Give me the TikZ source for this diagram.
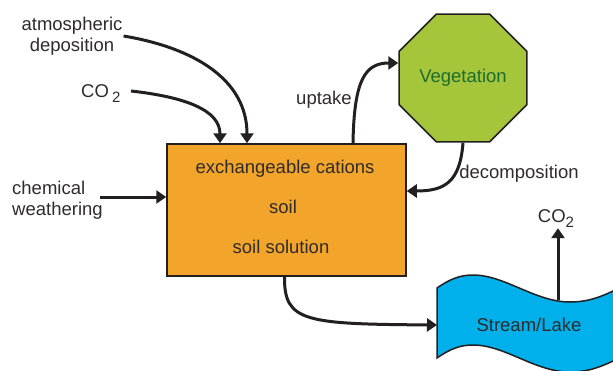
\documentclass[tikz,border=0pt]{standalone}
\usepackage{fontspec}
\setmainfont{Liberation Sans}
\usetikzlibrary{arrows.meta,shapes.geometric}
\definecolor{ink}{HTML}{231F20}
\definecolor{txt}{HTML}{2E2B2C}
\definecolor{soilor}{HTML}{F3A52B}
\definecolor{veggreen}{HTML}{A5C63B}
\definecolor{vegtext}{HTML}{1E6B2E}
\definecolor{water}{HTML}{00B0EA}
\tikzset{
  lbl/.style={font=\fontsize{18.5}{20.5}\selectfont, text=txt, inner sep=1pt},
  flow/.style={draw=ink, line width=3pt, -{Triangle[length=10pt,width=13pt]}},
  shapeline/.style={draw=ink, line width=1.5pt},
}
\newcommand{\subtwo}{\raisebox{-5pt}{\fontsize{15}{15}\selectfont 2}}
\begin{document}
\begin{tikzpicture}[x=1pt,y=-1pt]
\useasboundingbox (0,0) rectangle (613,370);

% soil box
\node[shapeline, fill=soilor, minimum width=239pt, minimum height=132pt, inner sep=0] (box) at (286.5,210) {};
\node[lbl] (t1) at (285,169) {exchangeable cations};
\node[lbl] (t2) at (283,207) {soil};
\node[lbl] (t3) at (281,247) {soil solution};

% vegetation
\node[shapeline, fill=veggreen, regular polygon, regular polygon sides=8, minimum size=138.5pt, inner sep=0,
      font=\fontsize{18.5}{20.5}\selectfont, text=vegtext] (veg) at (463,78) {Vegetation};

% stream / lake
\path[shapeline, fill=water]
  (437,288) .. controls (450,279) and (460,275) .. (473,275)
  .. controls (505,275) and (535,302) .. (570,302)
  .. controls (595,302) and (610,292) .. (630,283)
  -- (630,353)
  .. controls (610,362) and (595,372) .. (570,372)
  .. controls (535,372) and (505,345) .. (473,345)
  .. controls (460,345) and (450,349) .. (437,358) -- cycle;
\node[lbl] (stream) at (529,325) {Stream/Lake};
\coordinate (streamin) at (437,325);
\coordinate (streamtop) at (558,300);

% labels
\node[lbl, align=center] (atm) at (72,36) {atmospheric\\deposition};
\node[lbl, anchor=base west] (co2l) at (80,97) {CO\,\subtwo};
\node[lbl, align=left, anchor=west] (chem) at (11,200) {chemical\\weathering};
\node[lbl] (uptake) at (324,100) {uptake};
\node[lbl] (decomp) at (519,174) {decomposition};
\node[lbl, anchor=base] (co2r) at (556,222) {CO\subtwo};

\coordinate (co2lstart) at (131,91);
\coordinate (chemstart) at (100,197);

% connectors
\draw[flow] (atm.east) .. controls (195,48) and (247,80) .. ([xshift=-39.5pt]box.north);
\draw[flow] (co2lstart) .. controls (185,97) and (220,110) .. ([xshift=-66.5pt]box.north);
\draw[flow] (chemstart) -- ([yshift=13pt]box.west);
\draw[flow] ([xshift=66.5pt]box.north) .. controls (354,80) and (365,63) .. ([yshift=15pt]veg.west);
\draw[flow] (veg.south) .. controls (460,182) and (445,191) .. ([yshift=19pt]box.east);
\draw[flow] ([xshift=-2pt]box.south) .. controls (284,322) and (305,324) .. (streamin);
\draw[flow] (streamtop) -- (streamtop |- co2r.south);
\end{tikzpicture}
\end{document}
